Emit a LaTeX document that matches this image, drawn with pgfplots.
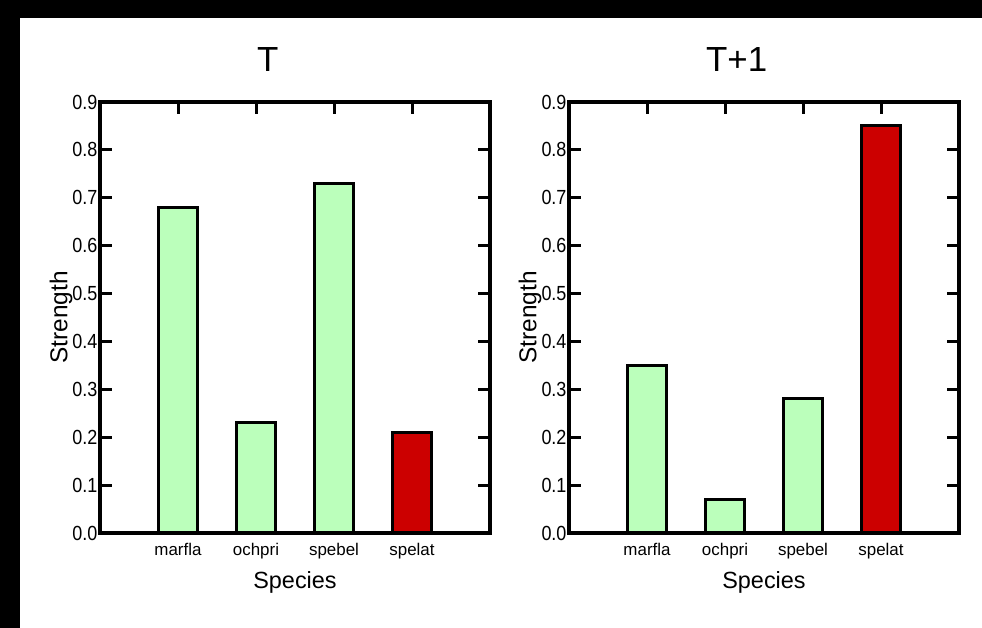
\documentclass[border=0pt]{standalone}
\usepackage{pgfplots}
\pgfplotsset{compat=1.18}
\usepackage{fontspec}
\setmainfont{Liberation Sans}
\newfontfamily\narrowlbl[FakeStretch=0.88]{Liberation Sans}
\definecolor{lgreen}{HTML}{BBFFBB}
\definecolor{dred}{HTML}{CC0000}
\pgfplotsset{
  mybars/.style={
    width=390bp, height=431bp, scale only axis,
    xmin=0, xmax=5, ymin=0, ymax=0.9,
    xtick={1,2,3,4}, xticklabels={marfla,ochpri,spebel,spelat},
    ytick={0,0.1,...,0.9},
    tick pos=both, tick align=inside,
    xticklabel pos=lower, yticklabel pos=left,
    axis line style={line width=3.2bp},
    major tick length=12bp,
    every tick/.style={black, line width=3bp},
    /pgf/number format/assume math mode=true,
    yticklabel style={/pgf/number format/fixed, /pgf/number format/precision=1, /pgf/number format/fixed zerofill, font=\narrowlbl\fontsize{20.5}{20.5}\selectfont, xshift=1bp},
    xticklabel style={font=\fontsize{17}{17}\selectfont, yshift=-7bp},
    xlabel={Species},
    ylabel={Strength},
    xlabel style={font=\fontsize{23.5}{23.5}\selectfont, at={(axis description cs:0.5,0)}, anchor=center, yshift=-49bp},
    ylabel style={font=\fontsize{24.5}{24.5}\selectfont, at={(axis description cs:-0.1,0.5)}, anchor=center, rotate=0},
    title style={font=\fontsize{35}{35}\selectfont, at={(axis description cs:0.43,1)}, anchor=center, yshift=37bp},
    clip=false,
  },
  mybar/.style={ybar, bar width=0.5, draw=black, line width=3bp},
}
\begin{document}
\begin{tikzpicture}[x=1bp,y=1bp]
\path[use as bounding box] (0,0) rectangle (982,628);
\fill[black] (0,610) rectangle (982,628);
\fill[black] (0,0) rectangle (20,628);
\begin{axis}[mybars, at={(100bp,95bp)}, anchor=south west, title={T}]
\addplot[mybar, fill=lgreen] coordinates {(1,0.68) (2,0.23) (3,0.73)};
\addplot[mybar, fill=dred] coordinates {(4,0.21)};
\end{axis}
\begin{axis}[mybars, at={(569bp,95bp)}, anchor=south west, title={T+1}]
\addplot[mybar, fill=lgreen] coordinates {(1,0.35) (2,0.07) (3,0.28)};
\addplot[mybar, fill=dred] coordinates {(4,0.85)};
\end{axis}
\end{tikzpicture}
\end{document}
